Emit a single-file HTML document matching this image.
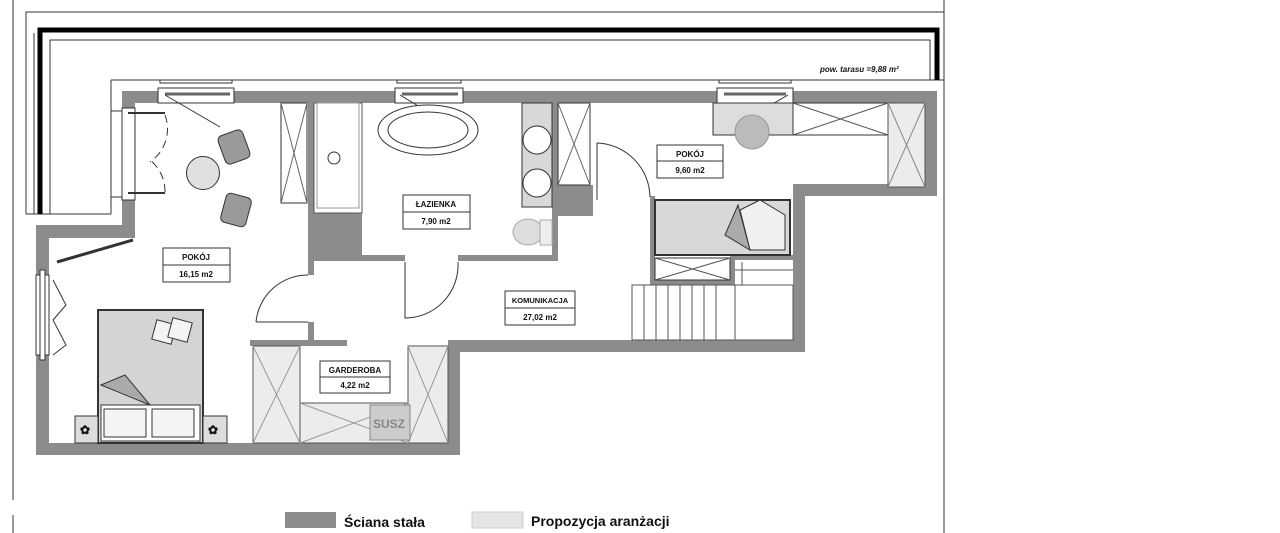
<!DOCTYPE html>
<html><head><meta charset="utf-8"><style>
html,body{margin:0;padding:0;background:#fff}
svg{display:block}
text{font-family:"Liberation Sans",sans-serif;font-weight:bold;fill:#111}
</style></head><body>
<svg width="1280" height="533" viewBox="0 0 1280 533" xmlns="http://www.w3.org/2000/svg">
<g fill="none" stroke="#333" stroke-width="1">
<line x1="13" y1="0" x2="13" y2="500"/>
<line x1="13" y1="515" x2="13" y2="533"/>
<line x1="944" y1="0" x2="944" y2="533"/>
<!-- terrace -->
<polyline points="26,214 26,12 944,12"/>
<polyline points="111,214 26,214"/>
<polyline points="50,214 50,40 930,40 930,80"/>
<line x1="111" y1="80" x2="944" y2="80"/>
<line x1="111" y1="80" x2="111" y2="214"/>
<line x1="34" y1="214" x2="34" y2="33"/>
</g>
<polyline points="40,214 40,30 937,30 937,80" fill="none" stroke="#000" stroke-width="5"/>
<text x="820" y="72" font-size="8" font-style="italic">pow. tarasu =9,88 m²</text>

<!-- walls -->
<g fill="#8c8c8c">
<rect x="122" y="91" width="815" height="12"/>
<rect x="122" y="91" width="13" height="17"/>
<rect x="122" y="200" width="13" height="38"/>
<rect x="36" y="225" width="99" height="13"/>
<rect x="36" y="225" width="13" height="50"/>
<rect x="36" y="355" width="13" height="100"/>
<rect x="36" y="443" width="424" height="12"/>
<rect x="448" y="340" width="12" height="115"/>
<rect x="448" y="340" width="357" height="12"/>
<rect x="793" y="184" width="12" height="168"/>
<rect x="793" y="184" width="144" height="12"/>
<rect x="925" y="91" width="12" height="105"/>
<!-- interior -->
<rect x="308" y="103" width="6" height="172"/>
<rect x="308" y="322" width="6" height="22"/>
<rect x="250" y="340" width="97" height="6"/>
<rect x="308" y="255" width="97" height="6"/>
<rect x="458" y="255" width="100" height="6"/>
<rect x="552" y="103" width="6" height="158"/>
<rect x="553" y="185" width="40" height="31"/>
<rect x="314" y="213" width="48" height="43"/>
<rect x="650" y="196" width="5" height="89"/>
<rect x="650" y="280" width="85" height="5"/>
<rect x="730" y="255" width="5" height="30"/>
<rect x="735" y="255" width="58" height="5"/>
</g>

<!-- windows in top wall -->
<g fill="#fff" stroke="#333" stroke-width="1">
<rect x="158" y="88" width="76" height="15"/>
<rect x="395" y="88" width="68" height="15"/>
<rect x="717" y="88" width="76" height="15"/>
<rect x="160" y="80" width="72" height="3"/>
<rect x="397" y="80" width="64" height="3"/>
<rect x="719" y="80" width="72" height="3"/>
<rect x="122" y="108" width="13" height="92"/>
<rect x="111" y="111" width="11" height="86"/>
<rect x="36" y="275" width="13" height="80"/>
<rect x="40" y="270" width="5" height="90"/>
</g>
<g stroke="#333" stroke-width="1" fill="none">
<line x1="165" y1="94" x2="230" y2="94" stroke-width="3" stroke="#666"/>
<line x1="402" y1="94" x2="458" y2="94" stroke-width="3" stroke="#666"/>
<line x1="724" y1="94" x2="786" y2="94" stroke-width="3" stroke="#666"/>
<line x1="165" y1="95" x2="220" y2="127"/>
<line x1="400" y1="95" x2="455" y2="128"/>
<line x1="788" y1="95" x2="757" y2="113"/>
<line x1="128" y1="113" x2="165" y2="113" stroke-width="2"/>
<line x1="128" y1="193" x2="165" y2="193" stroke-width="2"/>
<path d="M165,115 A40,40 0 0 1 150,162 M165,192 A40,40 0 0 0 150,160" stroke-dasharray="8,5"/>
<line x1="57" y1="262" x2="133" y2="240" stroke-width="3"/>
<polyline points="53,280 66,305 53,320 66,345 53,355"/>
</g>

<!-- left room furniture -->
<circle cx="203" cy="173" r="16.5" fill="#e0e0e0" stroke="#333"/>
<g fill="#9a9a9a" stroke="#333">
<rect x="221" y="132" width="26" height="30" rx="5" transform="rotate(-20 234 147)"/>
<rect x="223" y="195" width="26" height="30" rx="5" transform="rotate(15 236 210)"/>
</g>
<rect x="98" y="310" width="105" height="133" fill="#d4d4d4" stroke="#333" stroke-width="2"/>
<rect x="101" y="405" width="99" height="36" fill="#fff" stroke="#333"/>
<rect x="104" y="409" width="42" height="28" fill="#f4f4f4" stroke="#333"/>
<rect x="152" y="409" width="42" height="28" fill="#f4f4f4" stroke="#333"/>
<polygon points="101,385 125,375 150,405" fill="#aaa" stroke="#333"/>
<rect x="154" y="322" width="20" height="20" fill="#f4f4f4" stroke="#333" transform="rotate(15 164 332)"/>
<rect x="170" y="320" width="20" height="20" fill="#f4f4f4" stroke="#333" transform="rotate(15 180 330)"/>
<rect x="75" y="416" width="23" height="27" fill="#ddd" stroke="#333"/>
<rect x="203" y="416" width="24" height="27" fill="#ddd" stroke="#333"/>
<text x="80" y="434" font-size="12" font-weight="normal">✿</text>
<text x="208" y="434" font-size="12" font-weight="normal">✿</text>

<!-- wardrobes -->
<g fill="#fff" stroke="#333">
<rect x="281" y="103" width="26" height="100"/>
<rect x="558" y="103" width="32" height="82"/>
</g>
<g stroke="#666" fill="none">
<path d="M281,103 L307,203 M307,103 L281,203"/>
<path d="M558,103 L590,185 M590,103 L558,185"/>
</g>
<!-- bathroom -->
<rect x="314" y="103" width="48" height="110" fill="#fff" stroke="#555"/>
<rect x="317" y="103" width="42" height="105" fill="none" stroke="#999"/>
<circle cx="334" cy="158" r="6" fill="#fff" stroke="#333"/>
<ellipse cx="428" cy="130" rx="50" ry="25" fill="#fff" stroke="#333"/>
<ellipse cx="428" cy="130" rx="40" ry="18" fill="#fff" stroke="#333"/>
<rect x="522" y="103" width="30" height="104" fill="#d8d8d8" stroke="#333"/>
<circle cx="537" cy="140" r="14" fill="#fff" stroke="#333"/>
<circle cx="537" cy="183" r="14" fill="#fff" stroke="#333"/>
<ellipse cx="528" cy="232" rx="15" ry="13" fill="#ddd" stroke="#aaa"/>
<rect x="540" y="220" width="12" height="25" fill="#eee" stroke="#aaa"/>
<!-- doors -->
<g fill="none" stroke="#333">
<path d="M405,262 L405,318 A53,53 0 0 0 458,262"/>
<path d="M256,322 L308,322 M256,322 A52,52 0 0 1 308,275"/>
<path d="M597,143 L597,200 M597,143 A55,55 0 0 1 650,197"/>
</g>
<!-- small room -->
<rect x="713" y="103" width="80" height="32" fill="#ddd" stroke="#333"/>
<circle cx="752" cy="132" r="17" fill="#bbb" stroke="#999"/>
<rect x="793" y="103" width="95" height="32" fill="#fff" stroke="#333"/>
<path d="M793,103 L888,135 M888,103 L793,135" stroke="#555" fill="none"/>
<rect x="888" y="103" width="37" height="84" fill="#ececec" stroke="#555"/>
<path d="M888,103 L925,187 M925,103 L888,187" stroke="#888" fill="none"/>
<rect x="655" y="200" width="135" height="55" fill="#d8d8d8" stroke="#333" stroke-width="2"/>
<polygon points="740,210 760,200 785,215 785,250 750,250" fill="#f0f0f0" stroke="#333"/>
<polygon points="725,235 738,205 750,250" fill="#aaa" stroke="#333"/>
<rect x="655" y="258" width="75" height="22" fill="#fff" stroke="#333"/>
<path d="M655,258 L730,280 M730,258 L655,280" stroke="#555" fill="none"/>
<!-- stairs -->
<g stroke="#555" fill="none">
<rect x="632" y="285" width="161" height="55"/>
<line x1="644" y1="285" x2="644" y2="340"/><line x1="656" y1="285" x2="656" y2="340"/>
<line x1="668" y1="285" x2="668" y2="340"/><line x1="680" y1="285" x2="680" y2="340"/>
<line x1="692" y1="285" x2="692" y2="340"/><line x1="704" y1="285" x2="704" y2="340"/>
<line x1="716" y1="285" x2="716" y2="340"/><line x1="735" y1="285" x2="735" y2="340"/>
<line x1="735" y1="270" x2="793" y2="270"/><line x1="742" y1="262" x2="742" y2="285"/>
</g>
<!-- garderoba -->
<g fill="#ececec" stroke="#555">
<rect x="253" y="346" width="47" height="97"/>
<rect x="408" y="346" width="40" height="97"/>
<rect x="300" y="403" width="108" height="40"/>
</g>
<g stroke="#999" fill="none">
<path d="M253,346 L300,443 M300,346 L253,443"/>
<path d="M408,346 L448,443 M448,346 L408,443"/>
<path d="M300,403 L408,443 M408,403 L300,443"/>
</g>
<rect x="370" y="405" width="40" height="35" fill="#ccc" stroke="#888"/>
<text x="373" y="428" font-size="12" font-weight="normal" fill="#888" style="fill:#888">SUSZ</text>

<!-- labels -->
<g fill="#fff" stroke="#333">
<rect x="163" y="248" width="67" height="34"/><line x1="163" y1="265" x2="230" y2="265"/>
<rect x="403" y="195" width="67" height="34"/><line x1="403" y1="212" x2="470" y2="212"/>
<rect x="657" y="145" width="66" height="33"/><line x1="657" y1="161" x2="723" y2="161"/>
<rect x="505" y="291" width="70" height="34"/><line x1="505" y1="308" x2="575" y2="308"/>
<rect x="320" y="361" width="70" height="32"/><line x1="320" y1="377" x2="390" y2="377"/>
</g>
<g font-size="8" text-anchor="middle">
<text x="196" y="260">POKÓJ</text><text x="196" y="277">16,15 m2</text>
<text x="436" y="207">ŁAZIENKA</text><text x="436" y="224">7,90 m2</text>
<text x="690" y="157">POKÓJ</text><text x="690" y="173">9,60 m2</text>
<text x="540" y="303" font-size="7.5">KOMUNIKACJA</text><text x="540" y="320">27,02 m2</text>
<text x="355" y="373">GARDEROBA</text><text x="355" y="388">4,22 m2</text>
</g>
<!-- legend -->
<rect x="285" y="512" width="51" height="16" fill="#8c8c8c"/>
<text x="344" y="527" font-size="14">Ściana stała</text>
<rect x="472" y="512" width="51" height="16" fill="#e4e4e4" stroke="#ccc"/>
<text x="531" y="526" font-size="14">Propozycja aranżacji</text>
</svg>
</body></html>
